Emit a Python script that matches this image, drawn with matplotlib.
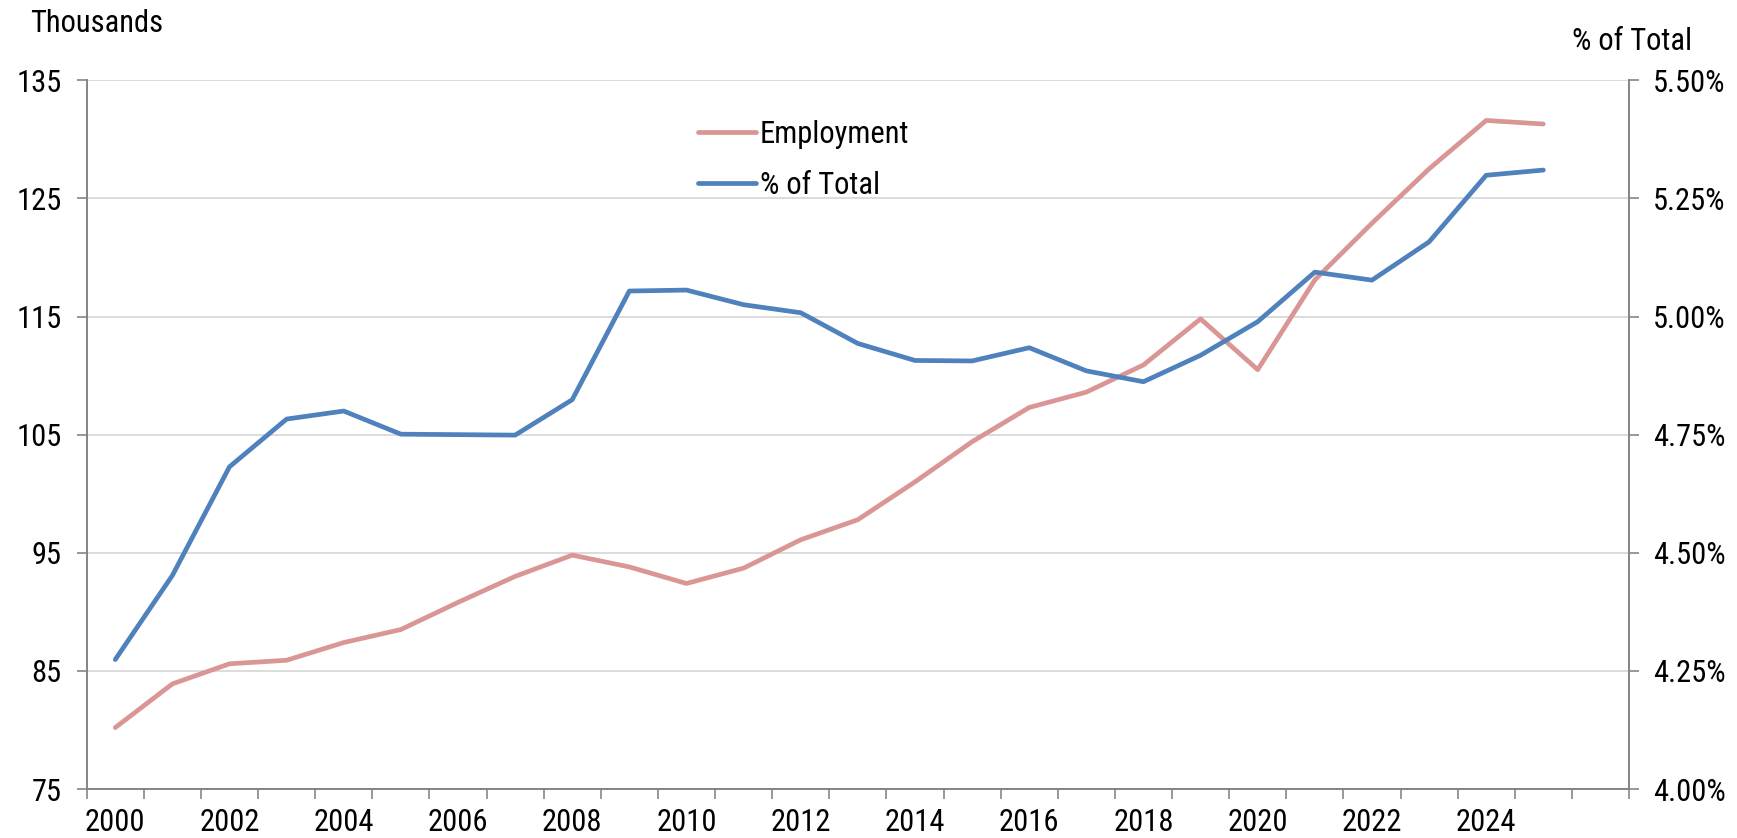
import matplotlib
matplotlib.use("Agg")
import matplotlib.pyplot as plt
from matplotlib import font_manager
from matplotlib.ticker import FixedLocator, FuncFormatter

# narrow font if one is around, else plain Liberation Sans a bit smaller
names = {f.name for f in font_manager.fontManager.ttflist}
narrow = [n for n in ('Liberation Sans Narrow', 'Roboto Condensed', 'Open Sans Condensed') if n in names]
if narrow:
    plt.rcParams['font.family'] = [narrow[0], 'DejaVu Sans']
    fs = 22
else:
    plt.rcParams['font.family'] = ['Liberation Sans', 'DejaVu Sans']
    fs = 20

# data
years = list(range(2000, 2026))
employment = [80.2, 83.9, 85.6, 85.9, 87.4, 88.5, 90.8, 93.0, 94.8, 93.8,
              92.4, 93.7, 96.1, 97.8, 101.0, 104.4, 107.3, 108.6, 110.9, 114.8,
              110.5, 118.1, 122.9, 127.5, 131.6, 131.3]
share_pct = [4.274, 4.452, 4.682, 4.783, 4.800, 4.751, 4.750, 4.749, 4.824, 5.054,
             5.056, 5.025, 5.008, 4.943, 4.907, 4.906, 4.934, 4.885, 4.862, 4.918,
             4.989, 5.094, 5.077, 5.158, 5.299, 5.310]
left_ticks = [75, 85, 95, 105, 115, 125, 135]
right_ticks = [4.00, 4.25, 4.50, 4.75, 5.00, 5.25, 5.50]
year_labels = list(range(2000, 2025, 2))

pink = '#D99694'
blue = '#4F81BD'
spine_c = '#868686'
grid_c = '#D9D9D9'

W, H = 1737, 838
fig = plt.figure(figsize=(W / 100, H / 100), dpi=100)
l, r, t, b = 86.7, 1629, 80.3, 789
ax = fig.add_axes([l / W, 1 - b / H, (r - l) / W, (b - t) / H])
ax2 = ax.twinx()

ax.plot(years, employment, color=pink, lw=3.4, solid_capstyle='round', label='Employment')
ax2.plot(years, share_pct, color=blue, lw=3.4, solid_capstyle='round', label='% of Total')

ax.set_xlim(1999.5, 2026.5)
ax.set_ylim(75, 135)
ax2.set_ylim(4.0, 5.5)

ax.set_yticks(left_ticks)
ax.set_yticklabels([str(v) for v in left_ticks])
ax2.set_yticks(right_ticks)
ax2.yaxis.set_major_formatter(FuncFormatter(lambda v, p: f'{v:.2f}%'))

# category boundaries as tick marks, labels in the middle of categories
ax.xaxis.set_major_locator(FixedLocator([1999.5 + k for k in range(28)]))
ax.xaxis.set_major_formatter(FuncFormatter(lambda v, p: ''))
ax.xaxis.set_minor_locator(FixedLocator(year_labels))
ax.xaxis.set_minor_formatter(FuncFormatter(lambda v, p: f'{int(round(v))}'))
ax.tick_params(axis='x', which='major', length=7, width=1.2, color=spine_c, direction='out')
ax.tick_params(axis='x', which='minor', length=0, pad=14, labelsize=fs)

ax.tick_params(axis='y', length=7, width=1.2, color=spine_c, pad=11, labelsize=fs)
ax2.tick_params(axis='y', length=7, width=1.2, color=spine_c, pad=10, labelsize=fs)

ax.grid(axis='y', color=grid_c, lw=1.3)
ax.set_axisbelow(True)

for a in (ax, ax2):
    a.spines['top'].set_visible(False)
    for s in ('left', 'right', 'bottom'):
        a.spines[s].set_color(spine_c)
        a.spines[s].set_linewidth(1.3)

fig.text(30 / W, 1 - 24 / H, 'Thousands', fontsize=fs, ha='left', va='center')
fig.text(1692 / W, 1 - 42 / H, '% of Total', fontsize=fs, ha='right', va='center')

h1, l1 = ax.get_legend_handles_labels()
h2, l2 = ax2.get_legend_handles_labels()
ax2.legend(h1 + h2, l1 + l2, loc='center left', bbox_to_anchor=(698 / W, 1 - 160 / H),
           bbox_transform=fig.transFigure, frameon=False, fontsize=fs,
           handlelength=1.9, handletextpad=0.12, labelspacing=0.72, borderpad=0,
           borderaxespad=0)

fig.savefig('out.png', dpi=100)
